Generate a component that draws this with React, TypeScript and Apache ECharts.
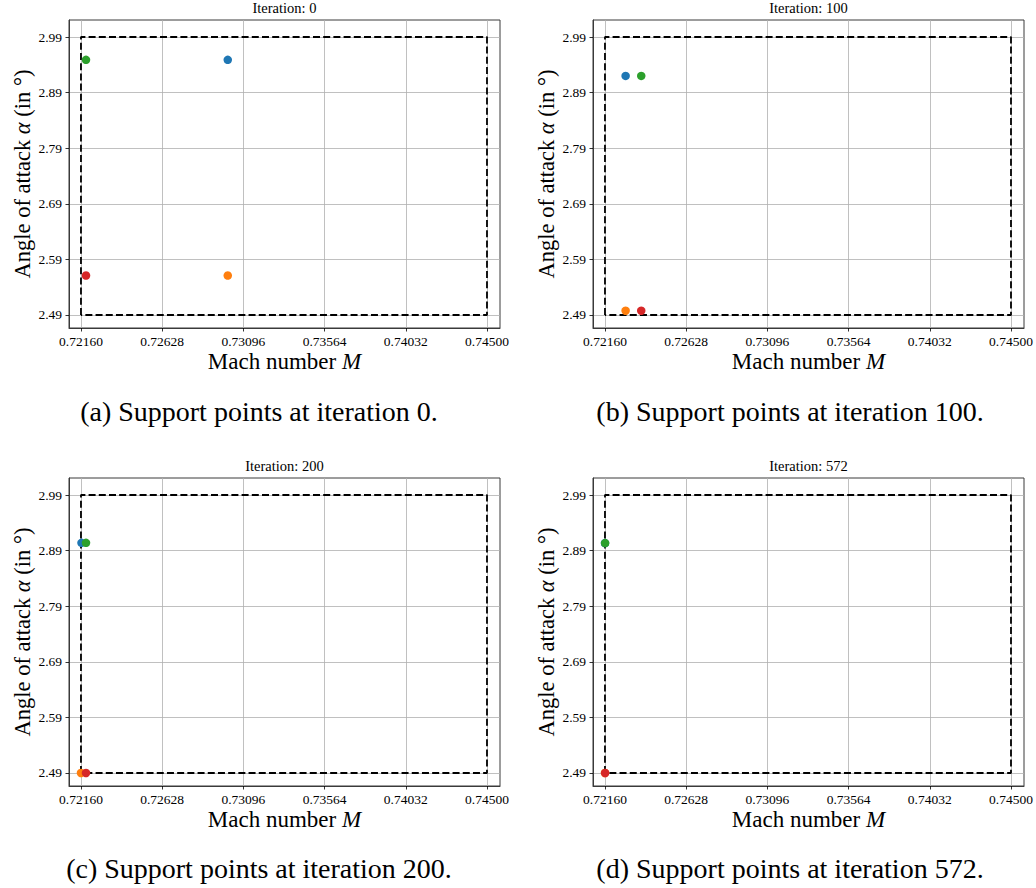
import React, { useEffect, useRef } from "react";
import * as echarts from "echarts";

// Iterations shown in the four panels
const iterations = [0, 100, 200, 572];
const captionLetters = ["a", "b", "c", "d"];

// Support points (one array per point, one entry per panel)
const machBlue = [0.73006, 0.72279, 0.72163, 0.7216];
const alphaBlue = [2.949, 2.92, 2.904, 2.9035];
const machOrange = [0.73006, 0.72279, 0.7216, 0.7216];
const alphaOrange = [2.561, 2.4977, 2.49, 2.49];
const machGreen = [0.72189, 0.72369, 0.72189, 0.72161];
const alphaGreen = [2.949, 2.92, 2.904, 2.9035];
const machRed = [0.72189, 0.72369, 0.72189, 0.72161];
const alphaRed = [2.561, 2.4977, 2.49, 2.49];

const pointColors = ["#1f77b4", "#ff7f0e", "#2ca02c", "#d62728"];
const pointMach = [machBlue, machOrange, machGreen, machRed];
const pointAlpha = [alphaBlue, alphaOrange, alphaGreen, alphaRed];

// Design-space bounds (dashed rectangle)
const boxMach = [0.7216, 0.7216, 0.745, 0.745, 0.7216];
const boxAlpha = [2.49, 2.99, 2.99, 2.49, 2.49];

// Tick labels
const xTicks = [0.7216, 0.72628, 0.73096, 0.73564, 0.74032, 0.745];
const yTicks = [2.49, 2.59, 2.69, 2.79, 2.89, 2.99];

const X_MIN = 0.72091;
const X_MAX = 0.74575;
const Y_MIN = 2.4666;
const Y_MAX = 3.0206;

const FONT = "'Liberation Serif', 'DejaVu Serif', serif";

const gridLefts = [69, 593];
const gridTops = [20, 478];
const GRID_W = 431;
const GRID_H = 308;

export default function App() {
  const ref = useRef<HTMLDivElement>(null);

  useEffect(() => {
    if (!ref.current) return;
    const chart = echarts.init(ref.current, undefined, { renderer: "svg" });

    const grids: any[] = [];
    const xAxes: any[] = [];
    const yAxes: any[] = [];
    const series: any[] = [];
    const graphics: any[] = [];

    iterations.forEach((it, k) => {
      const left = gridLefts[k % 2];
      const top = gridTops[Math.floor(k / 2)];
      grids.push({
        left,
        top,
        width: GRID_W,
        height: GRID_H,
        show: true,
        borderColor: "#3a3a3a",
        borderWidth: 1,
        backgroundColor: "transparent",
        containLabel: false,
        outerBoundsMode: "none",
      });
      xAxes.push({
        type: "value",
        gridIndex: k,
        min: X_MIN,
        max: X_MAX,
        name: "Mach number {i|M}",
        nameLocation: "middle",
        nameGap: 22,
        nameMoveOverlap: false,
        nameTextStyle: {
          fontFamily: FONT,
          fontSize: 23,
          color: "#000",
          rich: { i: { fontFamily: FONT, fontSize: 23, fontStyle: "italic", color: "#000" } },
        },
        axisLine: { show: true, onZero: false, lineStyle: { color: "#3a3a3a", width: 1 } },
        axisTick: { show: true, inside: false, length: 3.5, customValues: xTicks, lineStyle: { color: "#000", width: 0.8 } },
        axisLabel: {
          show: true,
          customValues: xTicks,
          margin: 6,
          fontFamily: FONT,
          fontSize: 13.5,
          color: "#000",
          formatter: (v: number) => v.toFixed(5),
        },
        splitLine: { show: true, lineStyle: { color: "#b0b0b0", width: 0.8 } },
      });
      yAxes.push({
        type: "value",
        gridIndex: k,
        min: Y_MIN,
        max: Y_MAX,
        axisLine: { show: true, onZero: false, lineStyle: { color: "#3a3a3a", width: 1 } },
        axisTick: { show: true, inside: false, length: 3.5, customValues: yTicks, lineStyle: { color: "#000", width: 0.8 } },
        axisLabel: {
          show: true,
          customValues: yTicks,
          margin: 7,
          fontFamily: FONT,
          fontSize: 13.5,
          color: "#000",
          formatter: (v: number) => v.toFixed(2),
        },
        splitLine: { show: true, lineStyle: { color: "#b0b0b0", width: 0.8 } },
      });
      series.push({
        type: "line",
        xAxisIndex: k,
        yAxisIndex: k,
        data: boxMach.map((m, i) => [m, boxAlpha[i]]),
        showSymbol: false,
        symbol: "none",
        silent: true,
        lineStyle: { color: "#000", width: 1.8, type: [7, 3.2] },
        z: 2,
      });
      pointColors.forEach((c, p) => {
        series.push({
          type: "scatter",
          xAxisIndex: k,
          yAxisIndex: k,
          data: [[pointMach[p][k], pointAlpha[p][k]]],
          symbol: "circle",
          symbolSize: 8.5,
          silent: true,
          itemStyle: { color: c, opacity: 1, borderWidth: 0 },
          z: 3,
        });
      });
      // y-axis title (rotated)
      graphics.push({
        type: "text",
        x: left - 47,
        y: top + GRID_H / 2,
        rotation: Math.PI / 2,
        style: {
          text: "Angle of attack {i|α} (in °)",
          fontFamily: FONT,
          fontSize: 22.5,
          fill: "#000",
          textAlign: "center",
          textVerticalAlign: "middle",
          rich: { i: { fontFamily: FONT, fontSize: 22.5, fontStyle: "italic", fill: "#000" } },
        },
      });
      graphics.push({
        type: "text",
        x: left + GRID_W / 2,
        y: 8 + (top - 20),
        style: {
          text: `Iteration: ${it}`,
          fontFamily: FONT,
          fontSize: 14.5,
          fill: "#000",
          textAlign: "center",
          textVerticalAlign: "middle",
        },
      });
      graphics.push({
        type: "text",
        x: [259, 790][k % 2],
        y: [411, 868][Math.floor(k / 2)],
        style: {
          text: `(${captionLetters[k]}) Support points at iteration ${it}.`,
          fontFamily: FONT,
          fontSize: 28,
          fill: "#000",
          textAlign: "center",
          textVerticalAlign: "middle",
        },
      });
    });

    chart.setOption({
      animation: false,
      backgroundColor: "#ffffff",
      grid: grids,
      xAxis: xAxes,
      yAxis: yAxes,
      series,
      graphic: graphics,
    });

    return () => {
      chart.dispose();
    };
  }, []);

  return (
    <div
      ref={ref}
      style={{ position: "fixed", left: 0, top: 0, width: 1036, height: 888 }}
    />
  );
}
